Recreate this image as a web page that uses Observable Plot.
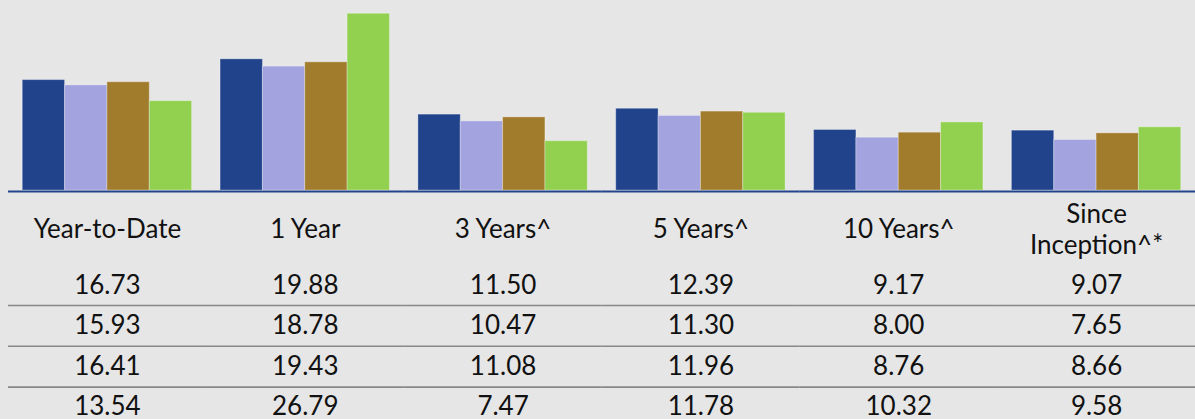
<!DOCTYPE html>
<html>
<head>
<meta charset="utf-8">
<script src="https://cdn.jsdelivr.net/npm/d3@7"></script>
<script src="https://cdn.jsdelivr.net/npm/@observablehq/plot@0.6"></script>
<style>
  html, body { margin: 0; padding: 0; background: #e6e6e6; }
</style>
</head>
<body>
<div id="chart"></div>
<script>
const categories = ["Year-to-Date", "1 Year", "3 Years^", "5 Years^", "10 Years^", "Since\nInception^*"];
const seriesNames = ["Series 1", "Series 2", "Series 3", "Series 4"];
const series1 = [16.73, 19.88, 11.50, 12.39, 9.17, 9.07];
const series2 = [15.93, 18.78, 10.47, 11.30, 8.00, 7.65];
const series3 = [16.41, 19.43, 11.08, 11.96, 8.76, 8.66];
const series4 = [13.54, 26.79, 7.47, 11.78, 10.32, 9.58];
const seriesColors = ["#21438c", "#a3a3df", "#a27c2d", "#92d050"];

const allSeries = [series1, series2, series3, series4];
const rows = [];
allSeries.forEach((vals, si) => {
  vals.forEach((v, ci) => rows.push({category: categories[ci], series: seriesNames[si], value: v}));
});

const FONT = 26;
const gapInset = -14.3;

const marks = [
  Plot.barY(rows, {
    fx: "category", x: "series", y: "value", fill: "series",
    stroke: "#ffffff", strokeOpacity: 0.3, strokeWidth: 1
  }),
  Plot.ruleY([0], {stroke: "#22448c", strokeWidth: 2.2, dy: 1, insetLeft: gapInset, insetRight: gapInset}),
  Plot.text(categories, {
    fx: d => d, text: d => d, frameAnchor: "bottom", lineAnchor: "middle", dy: 38,
    fontSize: FONT, lineHeight: 1.2, fill: "#111"
  }),
  ...seriesNames.map((s, i) => Plot.text(rows.filter(r => r.series === s), {
    fx: "category", text: d => d.value.toFixed(2), frameAnchor: "bottom", lineAnchor: "middle",
    dy: 95 + 40.5 * i, fontSize: FONT, fill: "#111"
  })),
  ...[0, 1, 2].map(i => Plot.ruleY([0], {
    dy: 115 + 40.8 * i, stroke: "#888888", strokeWidth: 1.6,
    insetLeft: gapInset, insetRight: gapInset
  }))
];

const chart = Plot.plot({
  width: 1195,
  height: 419,
  marginTop: 0,
  marginLeft: 8,
  marginRight: 0,
  marginBottom: 229,
  style: {background: "#e6e6e6", fontFamily: "Lato, sans-serif", color: "#111"},
  fx: {domain: categories, paddingInner: 0.144, paddingOuter: 0.072, round: false, axis: null, label: null},
  x: {domain: seriesNames, padding: 0, round: false, axis: null},
  y: {domain: [0, 28.8], axis: null},
  color: {domain: seriesNames, range: seriesColors},
  marks
});
document.getElementById("chart").appendChild(chart);
</script>
</body>
</html>
